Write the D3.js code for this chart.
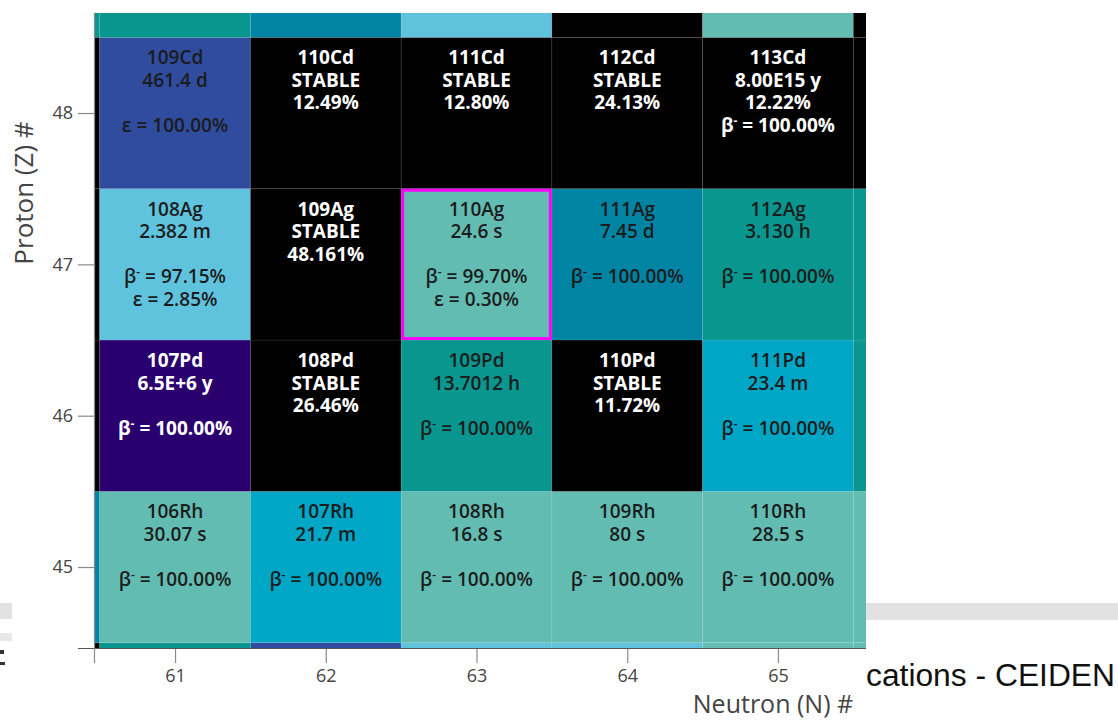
<!DOCTYPE html>
<html>
<head>
<meta charset="utf-8">
<script src="https://cdn.jsdelivr.net/npm/d3@7"></script>
<style>
  body { margin: 0; background: #fff; }
  svg { display: block; font-family: "Open Sans", "Noto Sans", sans-serif; }
</style>
</head>
<body>
<svg id="chart" width="1118" height="720"></svg>
<script>
// Chart of nuclides, Z = 44..49, N = 60..66 (rows by element, columns by neutron number)
const elements = ["Ru", "Rh", "Pd", "Ag", "Cd", "In"];
const protonNumbers = [44, 45, 46, 47, 48, 49];
const neutronNumbers = [60, 61, 62, 63, 64, 65, 66];

// Half-life per nuclide ("STABLE" for stable isotopes)
const halfLives = [
  ["STABLE", "4.44 h", "371.8 d", "3.75 m", "4.55 m", "34.5 s", "12.04 s"],
  ["35.36 h", "30.07 s", "21.7 m", "16.8 s", "80 s", "28.5 s", "11 s"],
  ["STABLE", "6.5E+6 y", "STABLE", "13.7012 h", "STABLE", "23.4 m", "21.03 h"],
  ["STABLE", "2.382 m", "STABLE", "24.6 s", "7.45 d", "3.130 h", "5.37 h"],
  ["STABLE", "461.4 d", "STABLE", "STABLE", "STABLE", "8.00E15 y", "STABLE"],
  ["4.167 h", "4.92 h", "2.8047 d", "14.88 m", "STABLE", "71.9 s", "4.41E14 y"]
];

// Natural abundance ("" when not found in nature)
const abundances = [
  ["18.62%", "", "", "", "", "", ""],
  ["", "", "", "", "", "", ""],
  ["27.33%", "", "26.46%", "", "11.72%", "", ""],
  ["51.839%", "", "48.161%", "", "", "", ""],
  ["0.89%", "", "12.49%", "12.80%", "24.13%", "12.22%", "28.73%"],
  ["", "", "", "", "4.29%", "", "95.71%"]
];

// Decay branches: [mode, percent]
const decayModes = [
  [[], [["β-", 100]], [["β-", 100]], [["β-", 100]], [["β-", 100]], [["β-", 100]], [["β-", 100]]],
  [[["β-", 100]], [["β-", 100]], [["β-", 100]], [["β-", 100]], [["β-", 100]], [["β-", 100]], [["β-", 100]]],
  [[], [["β-", 100]], [], [["β-", 100]], [], [["β-", 100]], [["β-", 100]]],
  [[], [["β-", 97.15], ["ε", 2.85]], [], [["β-", 99.70], ["ε", 0.30]], [["β-", 100]], [["β-", 100]], [["β-", 100]]],
  [[], [["ε", 100]], [], [], [], [["β-", 100]], []],
  [[["ε", 100]], [["ε", 100]], [["ε", 100]], [["ε", 56], ["β-", 44]], [], [["β-", 99.5], ["ε", 0.5]], [["β-", 100]]]
];

const selectedNuclide = "110Ag";

// Axis ticks and titles
const xTicks = [61, 62, 63, 64, 65];
const yTicks = [45, 46, 47, 48];
const xTitle = "Neutron (N) #";
const yTitle = "Proton (Z) #";

// ---------------------------------------------------------------
const svg = d3.select("#chart");
const plot = { left: 95, right: 866, top: 13, bottom: 648 };

const x = d3.scaleLinear().domain([60.469, 65.584]).range([plot.left, plot.right]);
const y = d3.scaleLinear().domain([44.465, 48.661]).range([plot.bottom, plot.top]);

const unitSeconds = { s: 1, m: 60, h: 3600, d: 86400, y: 31557600 };
const toSeconds = t => { const [v, u] = t.split(" "); return +v * unitSeconds[u]; };

// colour by decade of half-life (log10 seconds)
const halfLifeColor = d3.scaleThreshold()
  .domain([1, 2, 3, 4, 5, 6, 7, 10])
  .range(["#9bd8cf", "#63bcb2", "#60c3dd", "#00a6c6", "#09968f", "#0084a4", "#1f66a2", "#2f4c9f", "#2a006f"]);

const cells = [];
protonNumbers.forEach((z, r) => {
  neutronNumbers.forEach((n, c) => {
    const hl = halfLives[r][c];
    const ab = abundances[r][c];
    const fill = (hl === "STABLE" || ab !== "") ? "#000000" : halfLifeColor(Math.log10(toSeconds(hl)));
    const name = (z + n) + elements[r];
    const lines = [{ text: name }, { text: hl }, { text: ab }];
    decayModes[r][c].forEach(([m, p]) => lines.push({ mode: m, pct: p }));
    const l = d3.hsl(fill).l;
    cells.push({ z, n, name, fill, lines, light: isNaN(l) || l < 0.25 });
  });
});

// page elements beside the chart
const deco = svg.append("g");
deco.append("rect").attr("x", 866).attr("y", 603).attr("width", 252).attr("height", 17).attr("fill", "#e2e2e2");
deco.append("rect").attr("x", 0).attr("y", 603).attr("width", 12).attr("height", 16).attr("fill", "#e2e2e2");
deco.append("rect").attr("x", 0).attr("y", 633).attr("width", 12).attr("height", 8).attr("fill", "#e8e8e8");
deco.append("rect").attr("x", 0).attr("y", 650).attr("width", 4).attr("height", 4).attr("fill", "#333");
deco.append("rect").attr("x", 0).attr("y", 662).attr("width", 5).attr("height", 3).attr("fill", "#333");
deco.append("text").attr("x", 866).attr("y", 686)
  .attr("font-family", "'Liberation Sans', Arial, sans-serif").attr("font-size", 31)
  .attr("textLength", 249).attr("lengthAdjust", "spacingAndGlyphs")
  .attr("fill", "#111").text("cations - CEIDEN");

svg.append("clipPath").attr("id", "plotClip")
  .append("rect").attr("x", plot.left).attr("y", plot.top)
  .attr("width", plot.right - plot.left).attr("height", plot.bottom - plot.top);

const g = svg.append("g").attr("clip-path", "url(#plotClip)");
g.append("rect").attr("x", plot.left).attr("y", plot.top)
  .attr("width", plot.right - plot.left).attr("height", plot.bottom - plot.top).attr("fill", "#fff");

g.selectAll("rect.cell").data(cells).join("rect")
  .attr("class", "cell")
  .attr("x", d => x(d.n - 0.5))
  .attr("y", d => y(d.z + 0.5))
  .attr("width", d => x(d.n + 0.5) - x(d.n - 0.5))
  .attr("height", d => y(d.z - 0.5) - y(d.z + 0.5))
  .attr("fill", d => d.fill)
  .attr("stroke", "rgba(255,255,255,0.08)")
  .attr("stroke-width", 1);

// highlighted nuclide
const sel = cells.find(d => d.name === selectedNuclide);
g.append("rect")
  .attr("x", x(sel.n - 0.5) + 1.5)
  .attr("y", y(sel.z + 0.5) + 1.5)
  .attr("width", x(sel.n + 0.5) - x(sel.n - 0.5) - 3)
  .attr("height", y(sel.z - 0.5) - y(sel.z + 0.5) - 3)
  .attr("fill", "none").attr("stroke", "#ff00ff").attr("stroke-width", 3);

// labels for cells whose centre lies inside the plotting area
const fontSize = 19, lineStep = 22.5;
const labelled = cells.filter(d => x(d.n) > plot.left && x(d.n) < plot.right &&
                                   y(d.z) > plot.top && y(d.z) < plot.bottom);
labelled.forEach(d => {
  const cx = x(d.n);
  const top = y(d.z + 0.5);
  d.lines.forEach((ln, i) => {
    const t = g.append("text")
      .attr("x", cx).attr("y", top + 27 + i * lineStep)
      .attr("text-anchor", "middle")
      .attr("font-size", fontSize).attr("font-weight", d.light ? 700 : 600)
      .attr("fill", d.light ? "#ffffff" : "#1c1c1c");
    if (ln.mode) {
      const sym = ln.mode.replace("-", "");
      t.append("tspan").text(sym);
      if (ln.mode.endsWith("-")) {
        t.append("tspan").attr("dy", -7).attr("font-size", 12).text("-");
        t.append("tspan").attr("dy", 7).text(" = " + ln.pct.toFixed(2) + "%");
      } else {
        t.append("tspan").text(" = " + ln.pct.toFixed(2) + "%");
      }
    } else {
      t.text(ln.text);
    }
  });
});

// axes
const xAxis = d3.axisBottom(x).tickValues(xTicks).tickSize(15).tickPadding(6).tickFormat(d3.format("d"));
const yAxis = d3.axisLeft(y).tickValues(yTicks).tickSize(17).tickPadding(5).tickFormat(d3.format("d"));

const gx = svg.append("g").attr("transform", `translate(0,${plot.bottom})`).call(xAxis);
const gy = svg.append("g").attr("transform", `translate(${plot.left},0)`).call(yAxis);
[gx, gy].forEach(a => {
  a.select(".domain").remove();
  a.selectAll(".tick line").attr("stroke", "#8a8a8a").attr("stroke-width", 1.2);
  a.selectAll(".tick text").attr("fill", "#444").attr("font-size", 18)
    .attr("font-family", "'Open Sans', sans-serif");
});

svg.append("line").attr("x1", 78).attr("x2", plot.right)
  .attr("y1", plot.bottom + 0.5).attr("y2", plot.bottom + 0.5)
  .attr("stroke", "#555").attr("stroke-width", 1.2);
svg.append("line").attr("x1", plot.left - 0.5).attr("x2", plot.left - 0.5)
  .attr("y1", plot.top).attr("y2", plot.bottom + 15)
  .attr("stroke", "#8a8a8a").attr("stroke-width", 1.2);

svg.append("text")
  .attr("x", 773).attr("y", 713)
  .attr("text-anchor", "middle").attr("font-size", 25).attr("fill", "#444")
  .text(xTitle);
svg.append("text")
  .attr("transform", "translate(33,193) rotate(-90)")
  .attr("text-anchor", "middle").attr("font-size", 26).attr("fill", "#444")
  .text(yTitle);
</script>
</body>
</html>
